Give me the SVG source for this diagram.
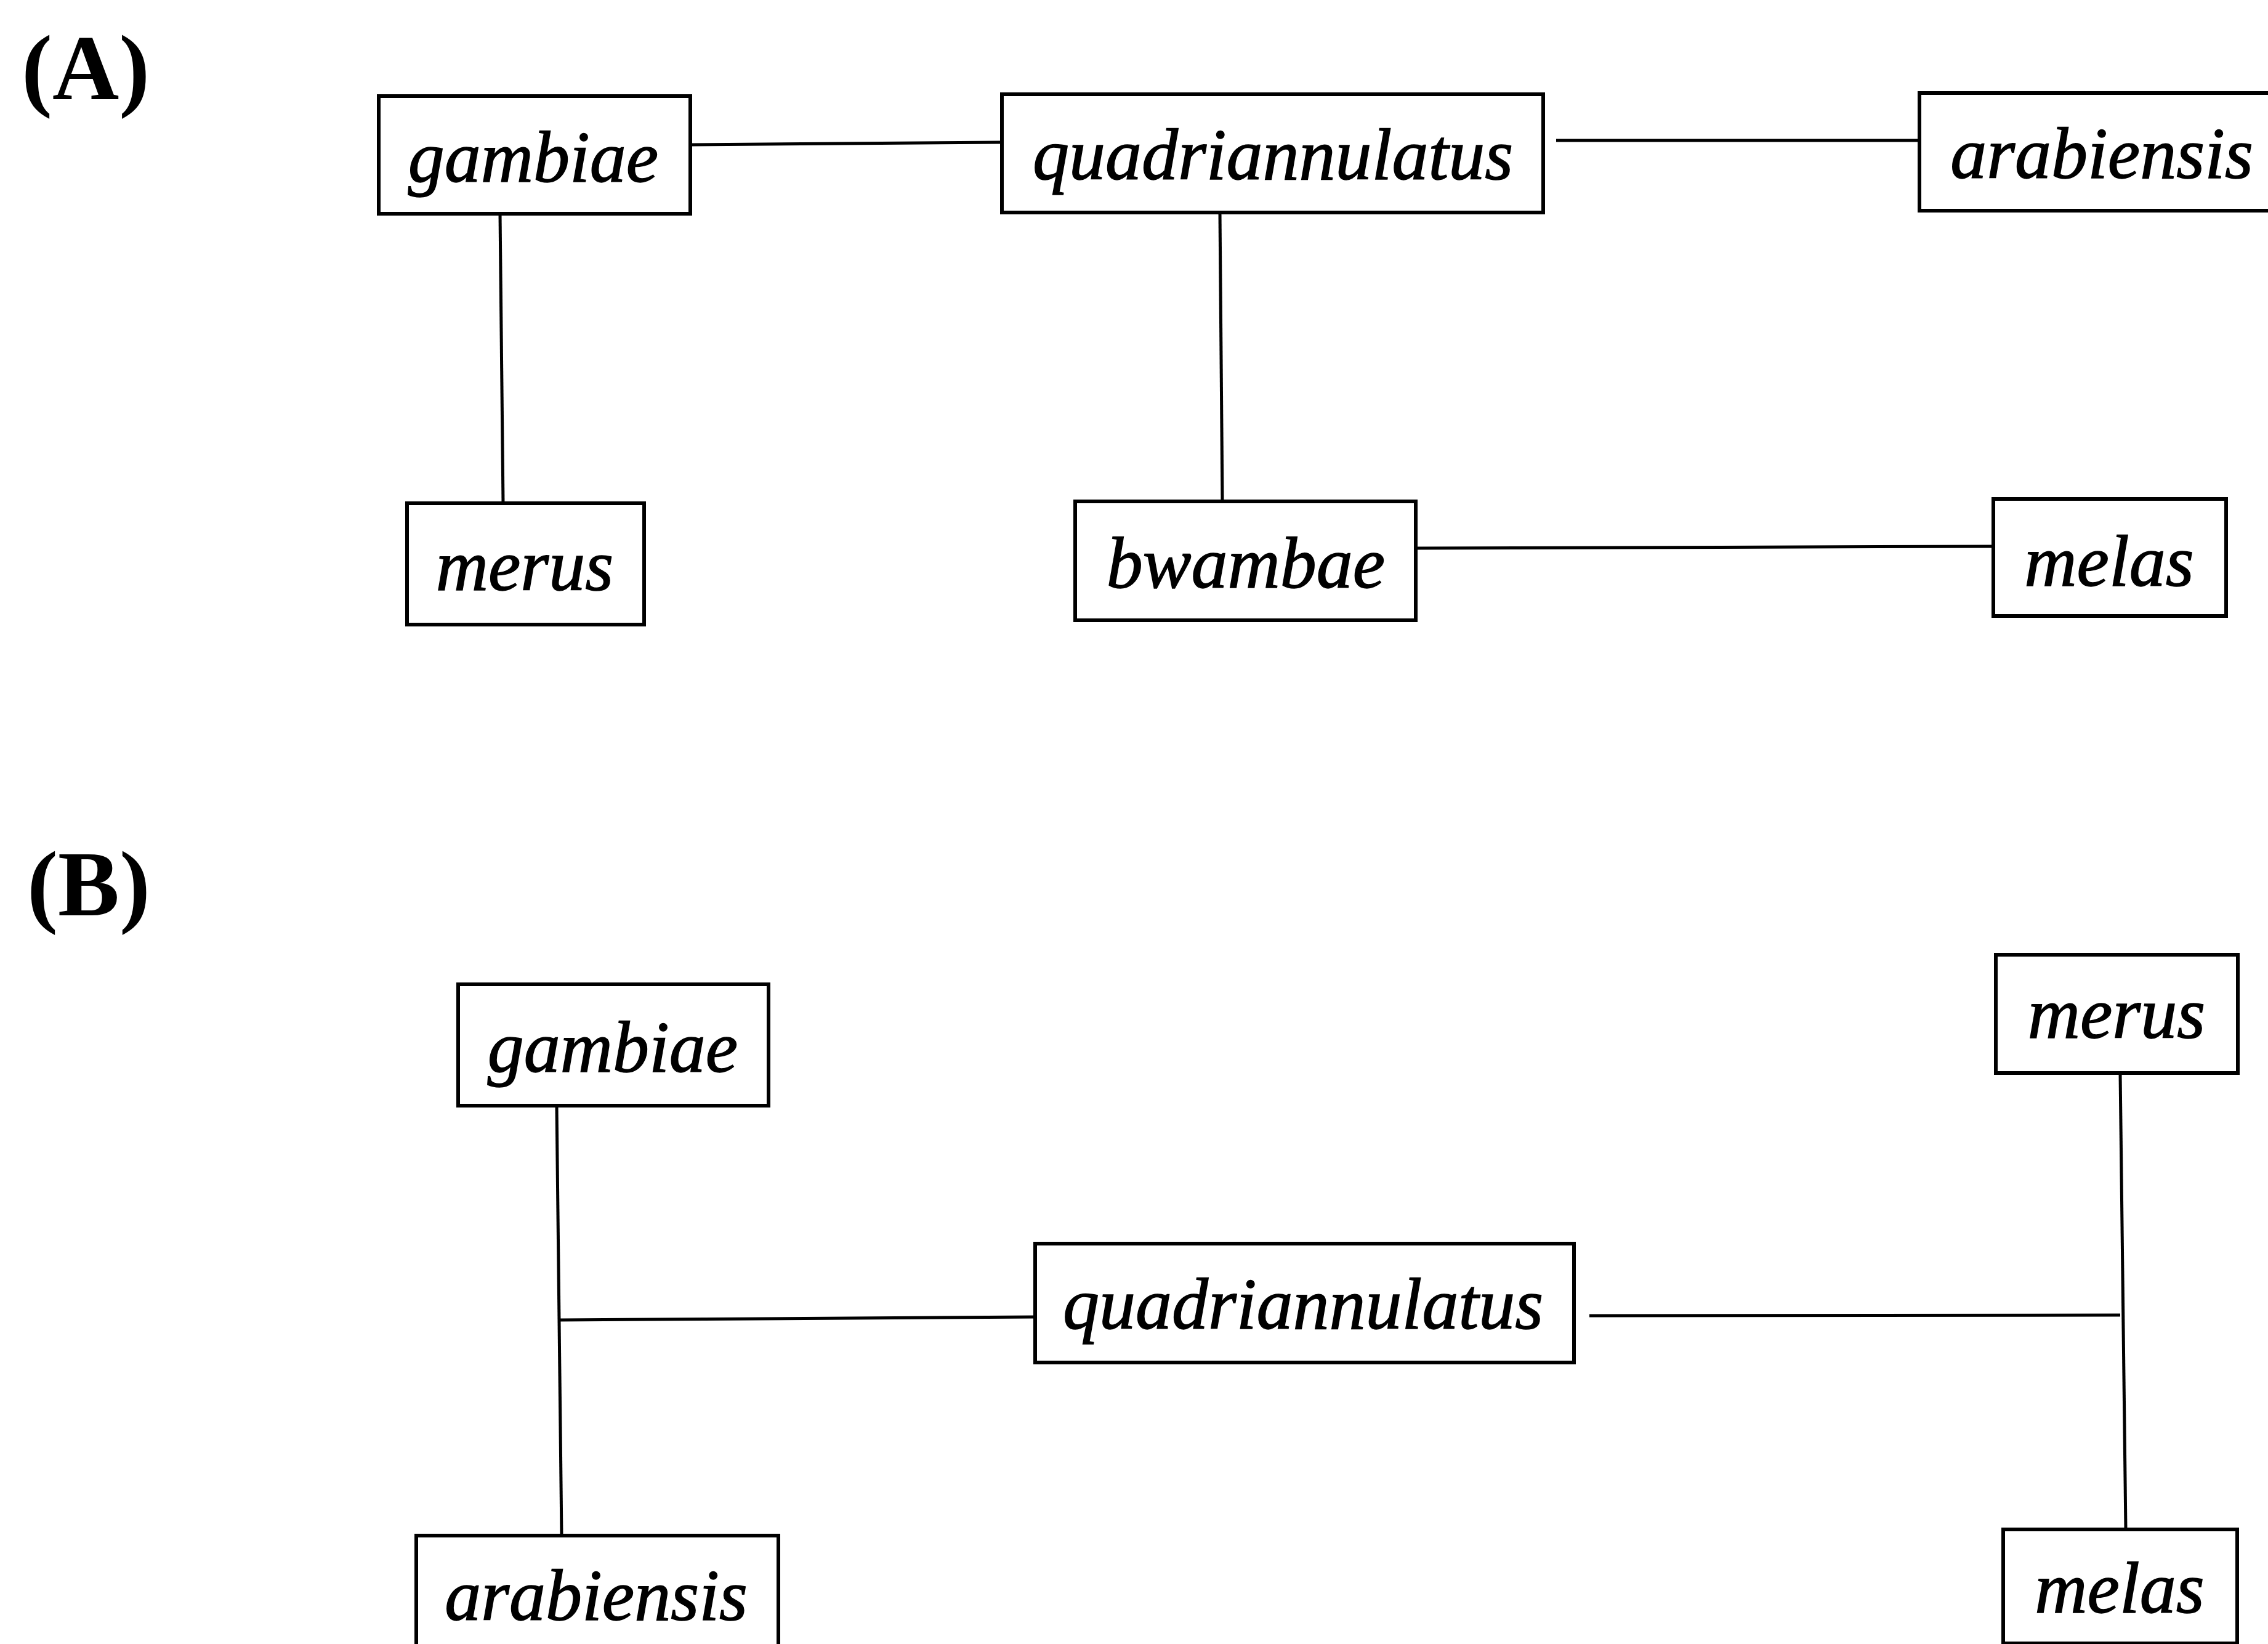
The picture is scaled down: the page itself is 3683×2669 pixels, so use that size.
<svg xmlns="http://www.w3.org/2000/svg" width="3683" height="2669" viewBox="0 0 3683 2669">
<style>
.box{fill:none;stroke:#000;stroke-width:6}
.lbl{font-family:"Liberation Serif","Times New Roman",serif;font-style:italic;font-size:118px;fill:#000;stroke:#000;stroke-width:1.5;text-anchor:middle}
.panel{font-family:"Liberation Serif","Times New Roman",serif;font-weight:bold;font-size:150px;fill:#000}
.con path{fill:none;stroke:#000;stroke-width:5}
</style>
<rect x="0" y="0" width="3683" height="2669" fill="#fff"/>
<text class="panel" x="35" y="161">(A)</text>
<text class="panel" x="44" y="1486">(B)</text>
<g class="con" id="connectors">
<path d="M1121 235 L1627 231"/>
<path d="M2527 228 L3117 228"/>
<path d="M812 347 L817 817"/>
<path d="M1981 345 L1985 814"/>
<path d="M2299 890 L3237 887"/>
<path d="M904 1795 L912 2493"/>
<path d="M908 2143 L1681 2138"/>
<path d="M2581 2136 L3443 2135"/>
<path d="M3443 1742 L3452 2483"/>
</g>
<g id="a-gambiae"><rect class="box" x="615" y="156" width="506" height="191"/><text class="lbl" x="866" y="295">gambiae</text></g>
<g id="a-quadriannulatus"><rect class="box" x="1627" y="153" width="879" height="192"/><text class="lbl" x="2067" y="291">quadriannulatus</text></g>
<g id="a-arabiensis"><rect class="box" x="3117" y="151" width="600" height="191"/><text class="lbl" x="3413" y="289">arabiensis</text></g>
<g id="a-merus"><rect class="box" x="661" y="817" width="385" height="197"/><text class="lbl" x="852" y="958">merus</text></g>
<g id="a-bwambae"><rect class="box" x="1746" y="814" width="553" height="193"/><text class="lbl" x="2023" y="954">bwambae</text></g>
<g id="a-melas"><rect class="box" x="3237" y="810" width="378" height="190"/><text class="lbl" x="3425" y="951">melas</text></g>
<g id="b-gambiae"><rect class="box" x="744" y="1598" width="504" height="197"/><text class="lbl" x="995" y="1740">gambiae</text></g>
<g id="b-quadriannulatus"><rect class="box" x="1681" y="2019" width="875" height="193"/><text class="lbl" x="2116" y="2157">quadriannulatus</text></g>
<g id="b-merus"><rect class="box" x="3241" y="1550" width="393" height="192"/><text class="lbl" x="3437" y="1685">merus</text></g>
<g id="b-arabiensis"><rect class="box" x="676" y="2493" width="588" height="200"/><text class="lbl" x="968" y="2630">arabiensis</text></g>
<g id="b-melas"><rect class="box" x="3253" y="2483" width="380" height="185"/><text class="lbl" x="3442" y="2618">melas</text></g>
</svg>
